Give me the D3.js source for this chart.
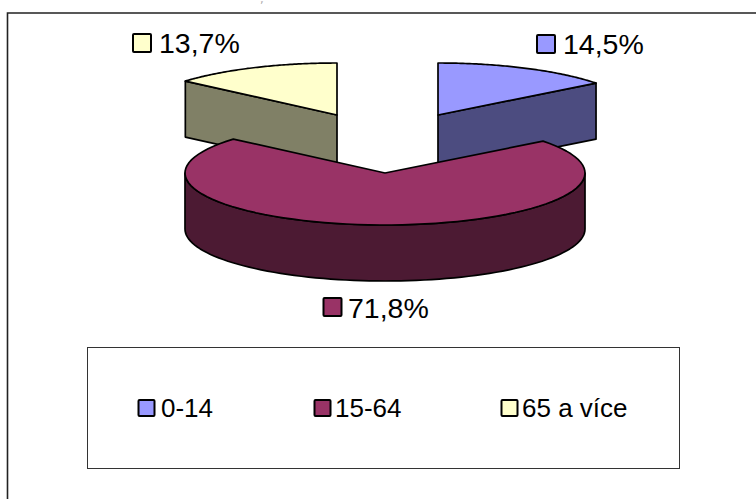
<!DOCTYPE html>
<html><head><meta charset="utf-8">
<script src="https://cdn.jsdelivr.net/npm/d3@7/dist/d3.min.js"></script>
<style>html,body{margin:0;padding:0;background:#fff;overflow:hidden}svg{display:block}text{font-family:"Liberation Sans",Arial,sans-serif;fill:#000}</style>
</head><body><div id="c"></div>
<script>
const categories = ["0-14", "15-64", "65 a více"];
const values = [14.5, 71.8, 13.7];
const labels = ["14,5%", "71,8%", "13,7%"];
const topColors = ["#9999FF", "#993366", "#FFFFCC"];
const sideColors = ["#4C4C80", "#4C1A33", "#808066"];
const centres = [[438,115],[385,173],[337,115]];
const labelPos = [[537,35,18,563,54],[323.5,298,18,348,318],[133,34,18,159,53]];
const legendSwatchX = [138.5,314.5,501.5];
const legendTextX = [161,335,522];

const W=756,H=499,rx=200,ry=52,depth=56;
const svg=d3.select("#c").append("svg").attr("width",W).attr("height",H);
svg.append("path").attr("d","M7.5,499V13H756").attr("fill","none").attr("stroke","#222").attr("stroke-width",1.6);
svg.append("text").attr("x",261).attr("y",2.8).attr("font-size",3.4).attr("font-style","italic").style("fill","#555").text("y");

const arcs=d3.pie().sort(null).startAngle(0).endAngle(2*Math.PI)(values);
const line=d3.line();
const sample=(c,a0,a1,dy=0)=>d3.range(0,81).map(i=>{const a=a0+(a1-a0)*i/80;return [c[0]+rx*Math.sin(a),c[1]+dy-ry*Math.cos(a)];});
const pt=(c,a,dy=0)=>[c[0]+rx*Math.sin(a),c[1]+dy-ry*Math.cos(a)];
const sw=1.7;
const draw=(pts,fill)=>svg.append("path").attr("d",line(pts)+"Z").attr("fill",fill).attr("stroke","#000").attr("stroke-width",sw).attr("stroke-linejoin","round");

[2,0,1].forEach(i=>{
  const p=arcs[i],c=centres[i];
  if(i===0){ const e=pt(c,p.endAngle);
    draw([c,e,[e[0],e[1]+depth],[c[0],c[1]+depth]],sideColors[i]); }
  if(i===2){ const s=pt(c,p.startAngle);
    draw([c,s,[s[0],s[1]+depth],[c[0],c[1]+depth]],sideColors[i]); }
  if(i===1){
    const a0=Math.PI/2,a1=3*Math.PI/2;
    draw(sample(c,a0,a1).concat(sample(c,a1,a0,depth)),sideColors[i]);
  }
  draw([c].concat(sample(c,p.startAngle,p.endAngle)),topColors[i]);
});

const swatch=(x,y,s,color)=>svg.append("rect").attr("x",x).attr("y",y).attr("width",s).attr("height",s).attr("fill",color).attr("stroke","#000").attr("stroke-width",2).attr("rx",1);

labels.forEach((t,i)=>{
  const [x,y,s,tx,ty]=labelPos[i];
  swatch(x,y,s,topColors[i]);
  svg.append("text").attr("x",tx).attr("y",ty).attr("font-size",28.5).text(t);
});

svg.append("rect").attr("x",87.5).attr("y",347.5).attr("width",592).attr("height",121).attr("fill","#fff").attr("stroke","#333").attr("stroke-width",1);
categories.forEach((t,i)=>{
  swatch(legendSwatchX[i],400,16,topColors[i]);
  svg.append("text").attr("x",legendTextX[i]).attr("y",417).attr("font-size",26).text(t);
});
</script></body></html>
